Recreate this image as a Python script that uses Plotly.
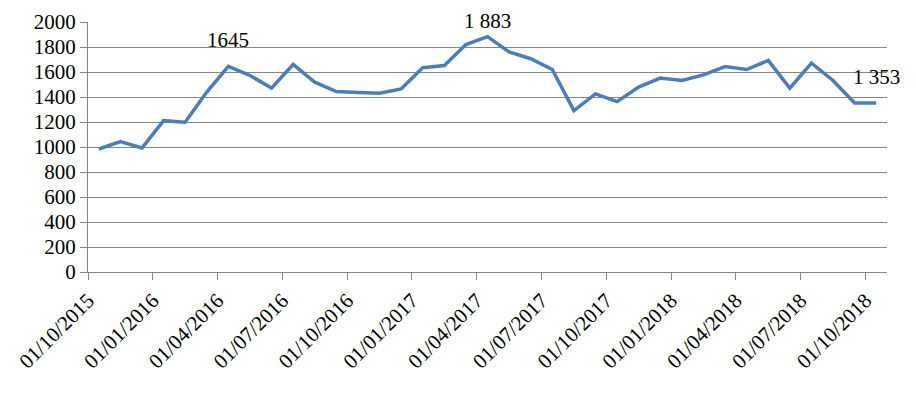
import plotly.graph_objects as go

months = [
    "10/2015", "11/2015", "12/2015", "01/2016", "02/2016", "03/2016", "04/2016", "05/2016",
    "06/2016", "07/2016", "08/2016", "09/2016", "10/2016", "11/2016", "12/2016", "01/2017",
    "02/2017", "03/2017", "04/2017", "05/2017", "06/2017", "07/2017", "08/2017", "09/2017",
    "10/2017", "11/2017", "12/2017", "01/2018", "02/2018", "03/2018", "04/2018", "05/2018",
    "06/2018", "07/2018", "08/2018", "09/2018", "10/2018",
]
values = [
    984, 1043, 992, 1211, 1198, 1440, 1645, 1572, 1471, 1660, 1519, 1444, 1437, 1430, 1465,
    1634, 1652, 1820, 1883, 1760, 1706, 1620, 1291, 1425, 1363, 1479, 1551, 1532, 1577, 1644,
    1620, 1692, 1471, 1671, 1532, 1353, 1353,
]
tick_labels = [
    "01/10/2015", "01/01/2016", "01/04/2016", "01/07/2016", "01/10/2016", "01/01/2017",
    "01/04/2017", "01/07/2017", "01/10/2017", "01/01/2018", "01/04/2018", "01/07/2018",
    "01/10/2018",
]
label_points = [6, 18, 36]
label_texts = ["1645", "1 883", "1 353"]
label_shifts = [26, 16, 26]

x = list(range(len(values)))
tick_vals = [i * 3 - 0.5 for i in range(len(tick_labels))]

FONT = "Liberation Serif"
GRID = "#868686"
FS = 21

fig = go.Figure()
fig.add_trace(go.Scatter(
    x=x, y=values, mode="lines",
    line=dict(color="#4A7EBB", width=3.5),
    hoverinfo="skip", showlegend=False,
))

for idx, txt, sh in zip(label_points, label_texts, label_shifts):
    fig.add_annotation(
        x=x[idx], y=values[idx], text=txt, showarrow=False,
        yshift=sh, borderpad=0, font=dict(family=FONT, size=FS, color="black"),
    )

fig.update_layout(
    width=916, height=395,
    margin=dict(l=80, r=37, t=14, b=131),
    paper_bgcolor="white", plot_bgcolor="white",
    font=dict(family=FONT, size=FS, color="black"),
    showlegend=False,
)
fig.update_xaxes(
    range=[-0.5, len(values) - 0.5], automargin=False,
    tickmode="array", tickvals=tick_vals, ticktext=tick_labels,
    tickangle=-45, showgrid=False, showline=True, linecolor=GRID, linewidth=1,
    ticks="outside", ticklen=7, tickcolor=GRID, tickwidth=1,
    zeroline=False, tickfont=dict(family=FONT, size=FS),
)
fig.update_yaxes(
    range=[0, 2000], dtick=200, tick0=0, automargin=False,
    showgrid=True, gridcolor=GRID, gridwidth=1,
    showline=True, linecolor=GRID, linewidth=1,
    ticks="outside", ticklen=7, tickcolor=GRID, tickwidth=1,
    zeroline=False, tickfont=dict(family=FONT, size=FS),
)

fig.write_html("out.html")
